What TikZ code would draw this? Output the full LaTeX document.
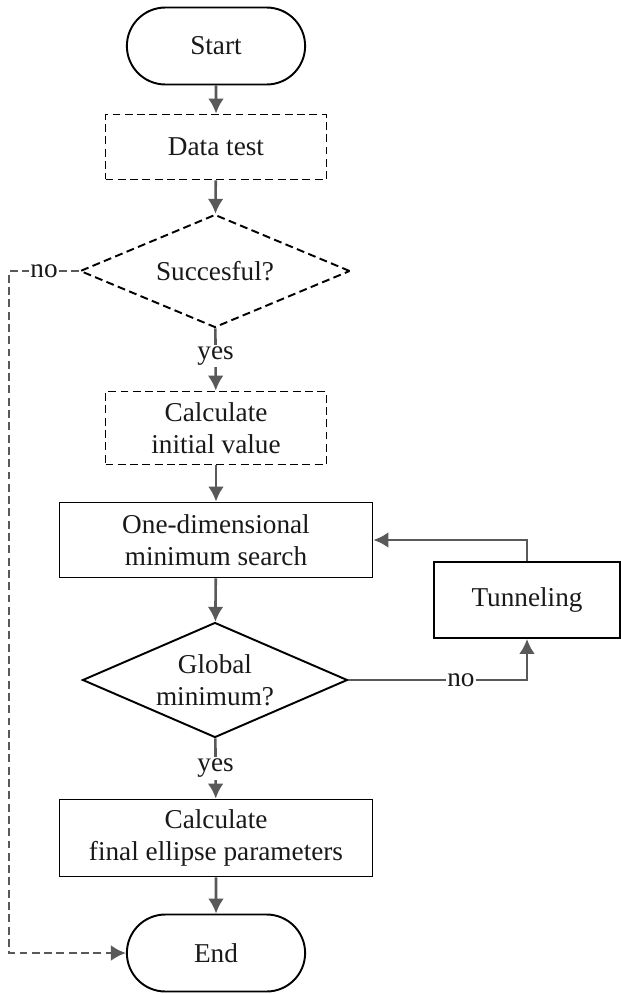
\documentclass[tikz,border=0pt]{standalone}
\usepackage{fontspec}
\setmainfont{Liberation Serif}
\usetikzlibrary{shapes.geometric,shapes.misc,arrows.meta}
\definecolor{linegray}{HTML}{595959}
\tikzset{
  every node/.style={font=\fontsize{15.5}{18}\selectfont,text=black!90},
  term/.style={draw,rounded rectangle,minimum width=3.8cm,minimum height=1.54cm,line width=1.1pt},
  box/.style={draw,rectangle,align=center,inner sep=0pt,line width=1.1pt},
  dbox/.style={box,dash pattern=on 4.5pt off 2.5pt},
  cond/.style={draw,diamond,align=center,inner sep=-9pt,line width=1.1pt},
  flow/.style={-{Latex[length=8.5pt,width=9pt]},draw=linegray,line width=1.5pt},
  lbl/.style={fill=white,inner sep=1pt}
}
\begin{document}
\begin{tikzpicture}[x=0.02cm,y=-0.02cm]
  \useasboundingbox (0,0) rectangle (621,994);
  \draw
    (216,46) node[term] (start){Start}
    (216,147) node[dbox,minimum width=4.42cm,minimum height=1.3cm] (test){Data test}
    (215,271) node[cond,dash pattern=on 4.5pt off 2.5pt,minimum width=5.4cm,minimum height=2.26cm] (ok){Succesful?}
    (216,428) node[dbox,minimum width=4.42cm,minimum height=1.46cm] (init){Calculate\\initial value}
    (216,540) node[box,minimum width=6.26cm,minimum height=1.5cm] (search){One-dimensional\\minimum search}
    (527,600) node[box,minimum width=3.72cm,minimum height=1.52cm] (tunnel){Tunneling}
    (215,680) node[cond,minimum width=5.3cm,minimum height=2.3cm] (glob){Global\\minimum?}
    (216,838) node[box,minimum width=6.26cm,minimum height=1.54cm] (final){Calculate\\final ellipse parameters}
    (216,953) node[term] (end){End};
  \begin{scope}[flow]
    \draw (start) to (test);
    \draw (test) to (ok);
    \draw (ok) to node[lbl,pos=0.45]{yes} (init);
    \draw (init) to (search);
    \draw (search) to (glob);
    \draw (glob) to node[lbl,pos=0.5]{yes} (final);
    \draw (final) to (end);
    \draw (glob.east) -| node[lbl,pos=0.315]{no} (tunnel.south);
    \draw (tunnel.north) |- (search.east);
    \draw[dash pattern=on 4.5pt off 2.5pt] (ok.west) -- node[lbl]{no} ++(-70,0) |- (end.west);
  \end{scope}
\end{tikzpicture}
\end{document}
